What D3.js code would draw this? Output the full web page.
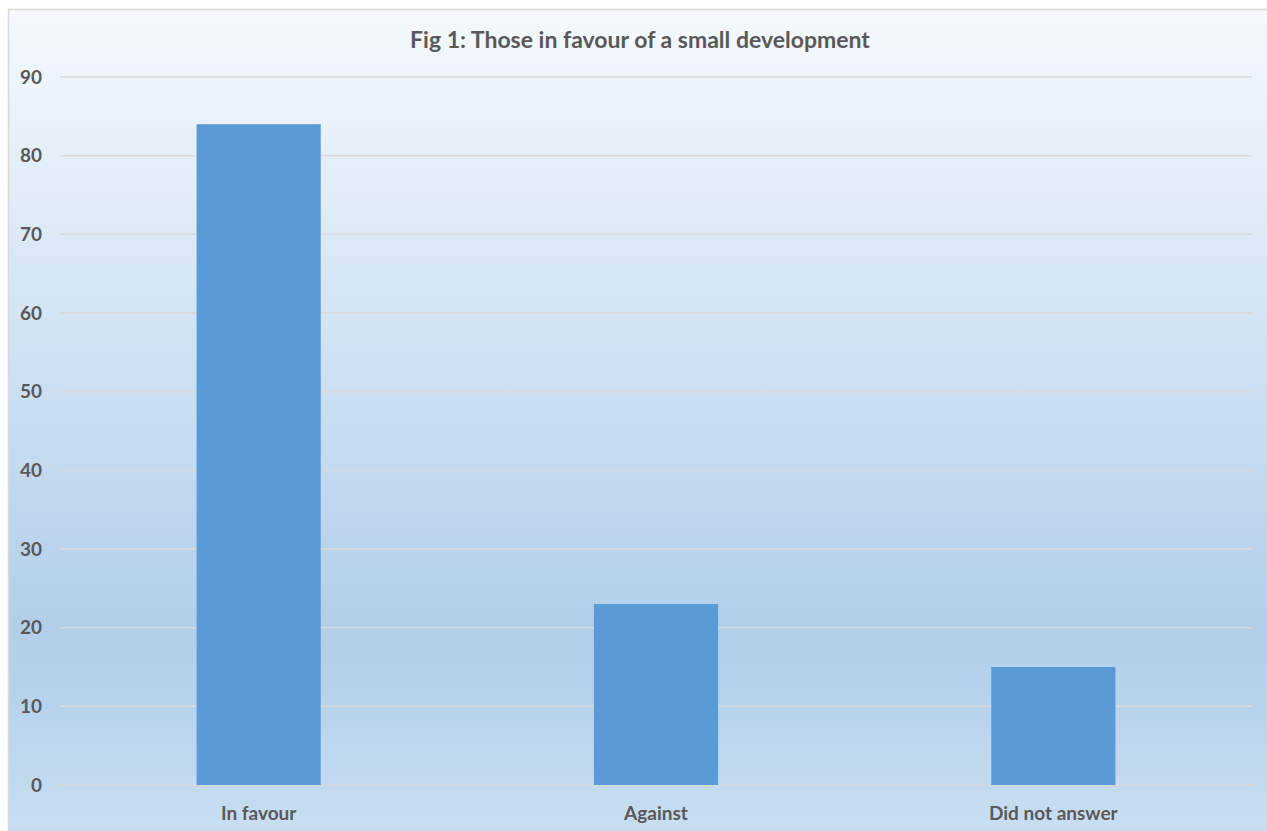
<!DOCTYPE html>
<html>
<head>
<meta charset="utf-8">
<script src="https://cdn.jsdelivr.net/npm/d3@7"></script>
<style>
html,body{margin:0;padding:0;background:#fff;}
svg{display:block;}
</style>
</head>
<body>
<svg id="chart" width="1267" height="831"></svg>
<script>
const categories = ["In favour", "Against", "Did not answer"];
const values = [84, 23, 15];
const yTicks = [0, 10, 20, 30, 40, 50, 60, 70, 80, 90];
const title = "Fig 1: Those in favour of a small development";

const svg = d3.select("#chart");
const W = 1267, H = 831;
const font = "Lato, Carlito, Calibri, 'Open Sans', sans-serif";
const txt = "#595959";

const defs = svg.append("defs");
const grad = defs.append("linearGradient").attr("id", "bg").attr("x1", 0).attr("y1", 0).attr("x2", 0).attr("y2", 1);
[[0, "#f5f9fd"], [0.74, "#b2cfea"], [0.83, "#b6d3ec"], [1, "#cadff2"]].forEach(([o, c]) =>
  grad.append("stop").attr("offset", o).attr("stop-color", c));

svg.append("rect").attr("x", 8.5).attr("y", 9.5).attr("width", W).attr("height", H)
  .attr("fill", "url(#bg)").attr("stroke", "#d9d9d9").attr("stroke-width", 1.5);

const plot = {left: 60, right: 1252, top: 77, bottom: 785};

const x = d3.scaleBand().domain(categories).range([plot.left, plot.right]).padding(0);
const y = d3.scaleLinear().domain([0, 90]).range([plot.bottom, plot.top]);

// gridlines
svg.append("g").selectAll("line").data(yTicks).join("line")
  .attr("x1", plot.left).attr("x2", plot.right)
  .attr("y1", d => y(d)).attr("y2", d => y(d))
  .attr("stroke", "#d9d9d9").attr("stroke-width", 1.5);

// bars
const bw = x.bandwidth() * 0.3125;
svg.append("g").selectAll("rect").data(values).join("rect")
  .attr("x", (d, i) => x(categories[i]) + x.bandwidth() / 2 - bw / 2)
  .attr("y", d => y(d))
  .attr("width", bw)
  .attr("height", d => y(0) - y(d))
  .attr("fill", "#5b9bd5");

// y axis
const yAxis = svg.append("g").attr("transform", `translate(${plot.left},0)`)
  .call(d3.axisLeft(y).tickValues(yTicks).tickSize(0).tickPadding(18));
yAxis.select(".domain").remove();
yAxis.selectAll("text").attr("fill", txt).attr("font-family", font)
  .attr("font-size", 19).attr("font-weight", "bold");

// x axis
const xAxis = svg.append("g").attr("transform", `translate(0,${plot.bottom})`)
  .call(d3.axisBottom(x).tickSize(0).tickPadding(22));
xAxis.select(".domain").remove();
xAxis.selectAll("text").attr("fill", txt).attr("font-family", font)
  .attr("font-size", 19).attr("font-weight", "bold");

// title
svg.append("text").attr("x", 640).attr("y", 48).attr("text-anchor", "middle")
  .attr("fill", txt).attr("font-family", font).attr("font-size", 23).attr("font-weight", "bold")
  .text(title);
</script>
</body>
</html>
